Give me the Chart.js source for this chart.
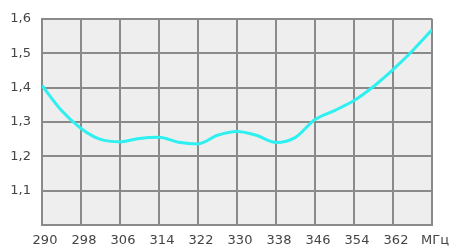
<!DOCTYPE html>
<html>
<head>
<meta charset="utf-8">
<script src="https://cdn.jsdelivr.net/npm/chart.js@4"></script>
<style>
  body { margin: 0; background: #fff; }
  #wrap { width: 454px; height: 249px; }
</style>
</head>
<body>
<div id="wrap"><canvas id="chart"></canvas></div>
<script>
// частоты, МГц
const freqs = [290, 294, 298, 302, 306, 310, 314, 318, 322, 326, 330, 334, 338, 342, 346, 350, 354, 358, 362, 366, 370];
// КСВ
const vswr = [1.406, 1.333, 1.281, 1.249, 1.242, 1.252, 1.255, 1.241, 1.236, 1.261, 1.272, 1.261, 1.240, 1.255, 1.307, 1.333, 1.362, 1.403, 1.452, 1.507, 1.568];
const xTicks = [290, 298, 306, 314, 322, 330, 338, 346, 354, 362, 370];
const yTicks = [1.0, 1.1, 1.2, 1.3, 1.4, 1.5, 1.6];

const plotBg = {
  id: 'plotBg',
  beforeDraw(chart) {
    const { ctx, chartArea: a } = chart;
    ctx.save();
    ctx.fillStyle = '#eeeeee';
    ctx.fillRect(a.left, a.top, a.right - a.left, a.bottom - a.top);
    ctx.restore();
  }
};

new Chart(document.getElementById('chart'), {
  type: 'line',
  data: {
    datasets: [{
      data: freqs.map((f, i) => ({ x: f, y: vswr[i] })),
      borderColor: '#2ef0f0',
      borderWidth: 3,
      pointRadius: 0,
      tension: 0.4,
      cubicInterpolationMode: 'monotone'
    }]
  },
  options: {
    responsive: true,
    maintainAspectRatio: false,
    animation: false,
    layout: { padding: { top: 18, right: 21, left: 0, bottom: 0 } },
    plugins: { legend: { display: false }, tooltip: { enabled: false } },
    scales: {
      x: {
        type: 'linear',
        min: 290,
        max: 370,
        afterBuildTicks: s => { s.ticks = xTicks.map(v => ({ value: v })); },
        afterFit: s => { s.height = 24; },
        grid: { color: '#8a8a8a', lineWidth: 2, drawTicks: false },
        border: { color: '#8a8a8a', width: 2 },
        ticks: {
          padding: 8,
          labelOffset: 3,
          maxRotation: 0,
          autoSkip: false,
          color: '#444',
          font: { family: 'DejaVu Sans', size: 13 },
          callback: v => v === 370 ? 'МГц' : String(v)
        }
      },
      y: {
        min: 1.0,
        max: 1.6,
        afterBuildTicks: s => { s.ticks = yTicks.map(v => ({ value: v })); },
        afterFit: s => { s.width = 42; },
        grid: { color: '#8a8a8a', lineWidth: 2, drawTicks: false },
        border: { color: '#8a8a8a', width: 2 },
        ticks: {
          padding: 11,
          color: '#444',
          font: { family: 'DejaVu Sans', size: 13 },
          callback: v => Math.abs(v - 1.0) < 1e-6 ? '' : v.toFixed(1).replace('.', ',')
        }
      }
    }
  },
  plugins: [plotBg]
});
</script>
</body>
</html>
